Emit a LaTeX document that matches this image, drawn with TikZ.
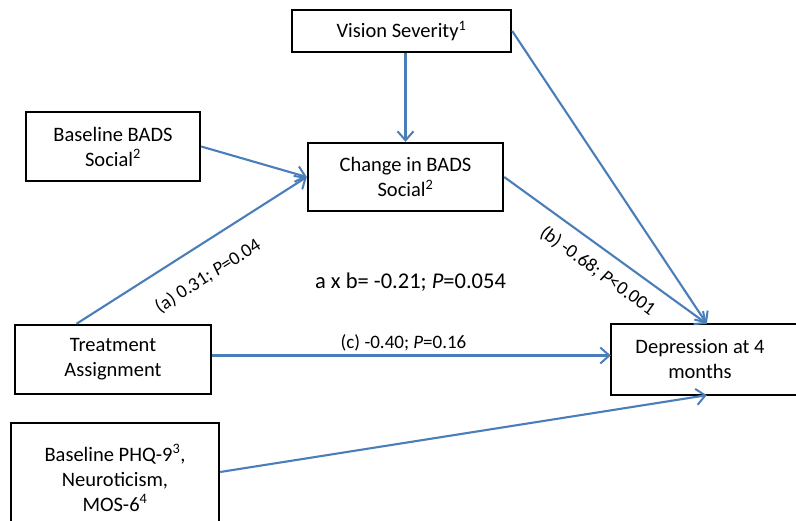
\documentclass[tikz,border=0pt]{standalone}
\usepackage{fontspec}
\setmainfont{Carlito}
\usetikzlibrary{arrows.meta,calc}
\definecolor{linkblue}{HTML}{4A7EBB}
\tikzset{
  box/.style={draw=black, line width=2.4pt, align=center, font=\fontsize{20.5}{25}\selectfont, inner sep=0pt},
  link/.style={draw=linkblue, line width=2.1pt, -{Straight Barb[length=9pt,width=16pt,line width=2pt]}},
  lab/.style={font=\fontsize{19}{22}\selectfont, inner sep=0pt, text=black},
}
\begin{document}
\begin{tikzpicture}[x=1pt,y=-1pt]
\useasboundingbox (0,0) rectangle (796,521);
\clip (0,0) rectangle (796,521);
\fill[white] (0,0) rectangle (796,521);
% boxes
\node[box, minimum width=219pt, minimum height=42pt] (vis) at (401.5,31) {Vision Severity\textsuperscript{1}};
\node[box, minimum width=174pt, minimum height=69pt] (bbs) at (113,146.5) {Baseline BADS\\Social\textsuperscript{2}};
\node[box, minimum width=195pt, minimum height=68pt] (chg) at (405.5,177) {Change in BADS\\Social\textsuperscript{2}};
\node[box, minimum width=196pt, minimum height=69pt] (trt) at (113,359.5) {Treatment\\Assignment};
\node[box, minimum width=208pt, minimum height=110pt] (phq) at (115,478) {Baseline PHQ-9\textsuperscript{3},\\Neuroticism,\\MOS-6\textsuperscript{4}};
\node[box, draw=none, minimum width=176pt, minimum height=69pt] (dep) at (700,359.5) {Depression at 4\\months};
\draw[line width=2.4pt] (dep.north west) rectangle ($(dep.south east)+(30,0)$);
% named end points
\coordinate (depTop) at ($(dep.north west)+(96,0)$);
\coordinate (depBot) at ($(dep.south west)+(96,0)$);
\coordinate (trtTop) at ($(trt.north west)!0.316!(trt.north east)$);
\coordinate (phqOut) at ($(phq.east)+(0,-6)$);
% connectors
\draw[link] (vis.south -| chg.north) -- (chg.north);
\draw[link] (vis.east) -- (depTop);
\draw[link] (bbs.east) -- (chg.west);
\draw[link] (trtTop) -- node[lab, midway, sloped, below=21pt] {(a) 0.31; \textit{P}=0.04} (chg.west);
\draw[link] (chg.east) -- node[lab, pos=0.523, sloped, below=12pt] {(b) -0.68; \textit{P}{<}0.001} (depTop);
\draw[link] ([yshift=4pt]trt.east) -- node[lab, pos=0.48, above=3pt] {(c) -0.40; \textit{P}=0.16} ([yshift=4pt]dep.west);
\draw[link] (phqOut) -- (depBot);
% indirect effect
\node[font=\fontsize{22.5}{26}\selectfont, inner sep=0pt] (ab) at (410.5,282) {a x b= -0.21; \textit{P}=0.054};
\end{tikzpicture}
\end{document}
